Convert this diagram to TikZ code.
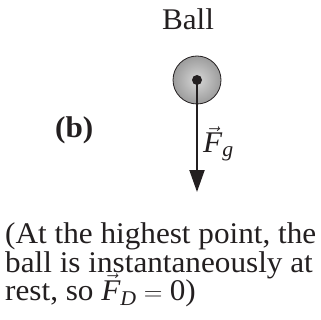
\documentclass[tikz,border=0pt]{standalone}
\usepackage{fontspec}
\setmainfont{Liberation Serif}
\usepackage{tikz}
\usetikzlibrary{arrows.meta}
\usetikzlibrary{positioning}
\definecolor{ball-in}{HTML}{D6D6D6}
\definecolor{ball-out}{HTML}{9C9C9C}
\definecolor{fb-text}{HTML}{231F20}

\begin{document}
\begin{tikzpicture}[x=1pt, y=-1pt, >={Triangle[length=22pt, width=15pt]},
    txt/.style={inner sep=0pt, anchor=base west, text=fb-text, xscale=1.04, transform shape,
        font=\fontsize{30}{32}\selectfont}]
    \useasboundingbox (0, 0) rectangle (320, 320);

    % Ball with its label
    \node[txt, anchor=base] (balllabel) at (188, 30) {Ball};
    \node[circle, draw=fb-text, line width=0.8pt, minimum size=48pt, inner sep=0pt,
        inner color=ball-in, outer color=ball-out] (ball) at (197, 80) {};
    \fill[fb-text] (ball.center) circle (5pt);

    % Weight vector
    \coordinate (tip) at (197, 192);
    \draw[->, fb-text, line width=2pt] (ball.center) -- (tip);
    \node[txt] (fg) at (203, 153) {$\vec{\mathit{F}}_{\mathit{g}}$};

    % Part label
    \node[txt, font=\fontsize{30}{32}\selectfont\bfseries] (part) at (55, 138) {(b)};

    % Caption
    \node[txt] (line1) at (5, 243) {(At the highest point, the};
    \node[txt] (line2) at (5, 272) {ball is instantaneously at};
    \node[txt] (line3) at (5, 300) {rest, so $\vec{\mathit{F}}_{\mathit{D}} = \mathrm{0}$)};
\end{tikzpicture}
\end{document}
